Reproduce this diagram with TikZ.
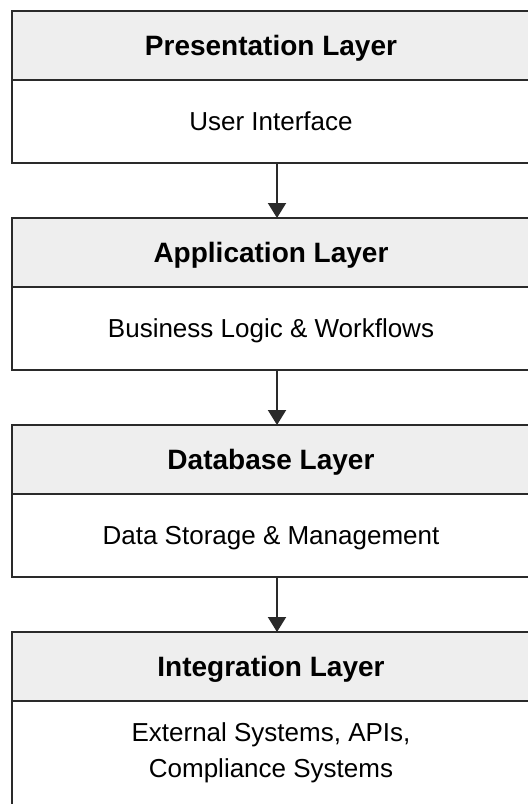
\documentclass[tikz,border=0pt]{standalone}
\usepackage{fontspec}
\setmainfont{Liberation Sans}
\usepackage{tikz}
\usetikzlibrary{arrows.meta,positioning}

\tikzset{
  layerhead/.style={draw=layerline, line width=1pt, fill=headfill,
    minimum width=259pt, minimum height=34.5pt, inner sep=0pt, outer sep=0pt,
    text height=10pt, text depth=0pt,
    font=\fontsize{14}{17}\selectfont\bfseries},
  layerbody/.style={draw=layerline, line width=1pt, fill=white,
    minimum width=259pt, minimum height=41.5pt, inner sep=0pt, outer sep=0pt,
    align=center, font=\fontsize{13}{18}\selectfont},
  oneline/.style={text height=9.3pt, text depth=0pt},
  flow/.style={-{Triangle[width=9pt,length=7.5pt]}, line width=1pt, draw=layerline}
}

\begin{document}
\begin{tikzpicture}
    \definecolor{layerline}{HTML}{2A2A2A}
    \definecolor{headfill}{HTML}{EEEEEE}

    % page frame, origin at top left (528 x 804 px)
    \useasboundingbox (0,0) rectangle (264pt,-402pt);

    % =================== presentation ===================
    \node[layerhead, anchor=north west] (head1) at (6pt,-5.5pt) {Presentation Layer};
    \node[layerbody, oneline, below=0pt of head1] (body1) {User Interface};

    % =================== application ===================
    \node[layerhead, below=27.5pt of body1] (head2) {Application Layer};
    \node[layerbody, oneline, below=0pt of head2] (body2) {Business Logic \& Workflows};

    % =================== database ===================
    \node[layerhead, below=27.5pt of body2] (head3) {Database Layer};
    \node[layerbody, oneline, below=0pt of head3] (body3) {Data Storage \& Management};

    % =================== integration ===================
    \node[layerhead, below=27.5pt of body3] (head4) {Integration Layer};
    \node[layerbody, below=0pt of head4, minimum height=52pt] (body4)
      {External Systems, APIs,\\Compliance Systems};

    % arrows between layers
    \draw[flow] ([xshift=3pt]body1.south) -- ([xshift=3pt]head2.north);
    \draw[flow] ([xshift=3pt]body2.south) -- ([xshift=3pt]head3.north);
    \draw[flow] ([xshift=3pt]body3.south) -- ([xshift=3pt]head4.north);
\end{tikzpicture}
\end{document}
